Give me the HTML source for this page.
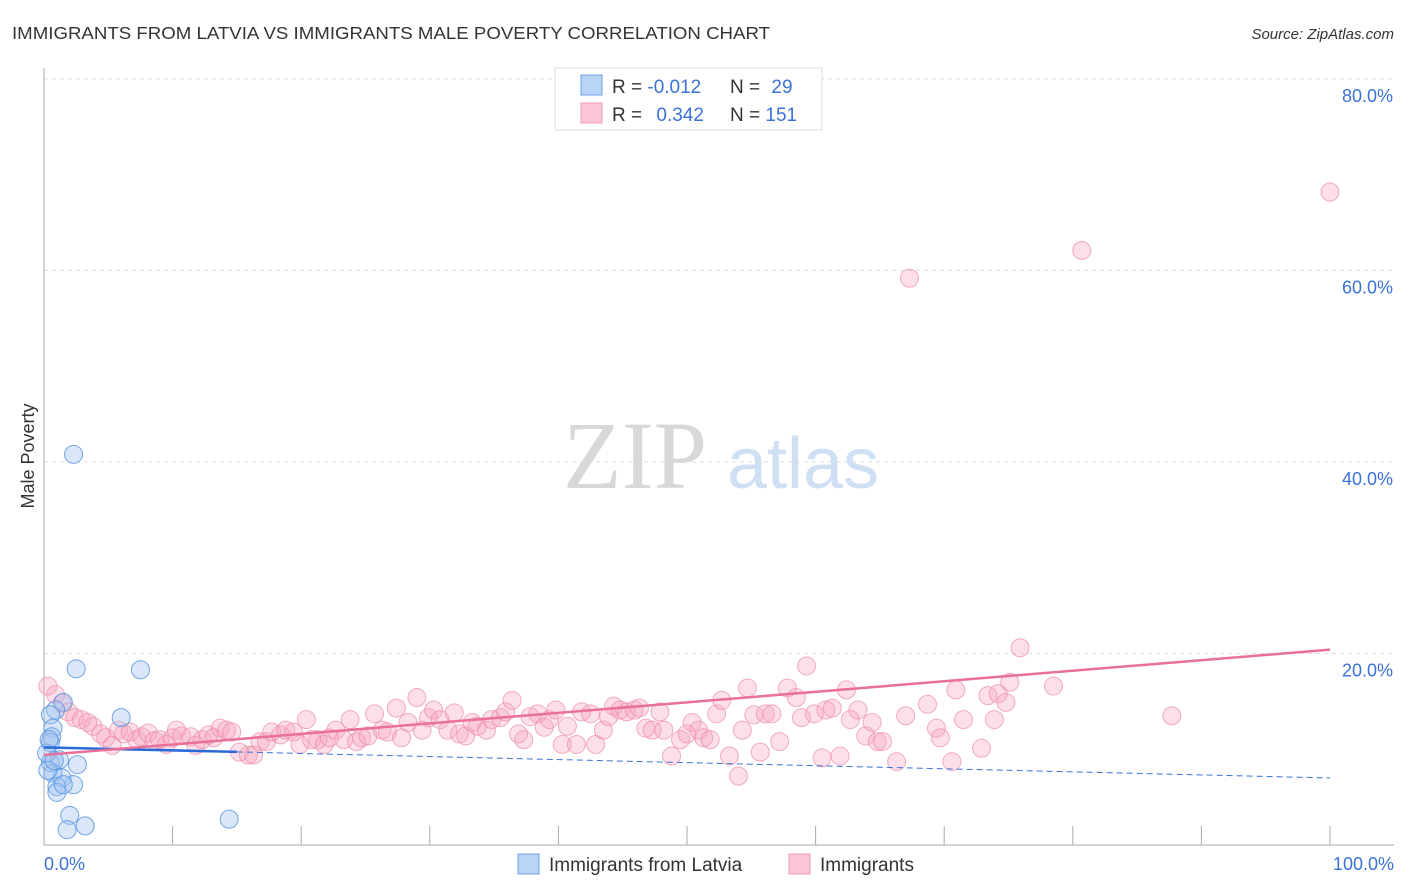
<!DOCTYPE html>
<html><head><meta charset="utf-8"><style>
body{margin:0;background:#fff;font-family:"Liberation Sans",sans-serif;}
svg{display:block}
</style></head><body>
<svg id="chart" width="1406" height="892" viewBox="0 0 1406 892" xmlns="http://www.w3.org/2000/svg">
<text x="12" y="39" font-size="17.5" fill="#333" textLength="758" lengthAdjust="spacingAndGlyphs">IMMIGRANTS FROM LATVIA VS IMMIGRANTS MALE POVERTY CORRELATION CHART</text>
<text x="1394" y="39" font-size="15" fill="#333" font-style="italic" text-anchor="end">Source: ZipAtlas.com</text>
<g>
<text x="635" y="488" font-family="Liberation Serif,serif" font-size="96" fill="#d8d8d8" text-anchor="middle">ZIP</text>
<text x="803" y="488" font-size="72" fill="#cfe0f5" text-anchor="middle">atlas</text>
</g>
<g id="grid"></g>
<g id="axes"></g>
<g id="marks"></g>
<text transform="translate(34,456) rotate(-90)" font-size="18" fill="#333" text-anchor="middle">Male Poverty</text>
<g>
<rect x="555" y="68" width="267" height="62" fill="#fff" stroke="#ddd"/>
<rect x="581" y="75" width="21" height="20" fill="#b8d4f6" stroke="#6fa3e6"/>
<rect x="581" y="103" width="21" height="20" fill="#fbc6d5" stroke="#ee9cb6"/>
<text x="612" y="93" font-size="19" fill="#333">R = <tspan fill="#3a72d8">-0.012</tspan></text>
<text x="730" y="93" font-size="19" fill="#333">N = <tspan fill="#3a72d8" dx="6">29</tspan></text>
<text x="612" y="121" font-size="19" fill="#333">R = <tspan fill="#3a72d8" dx="9">0.342</tspan></text>
<text x="730" y="121" font-size="19" fill="#333">N = <tspan fill="#3a72d8">151</tspan></text>
</g>
<g>
<rect x="518" y="854" width="21" height="20" fill="#b8d4f6" stroke="#6fa3e6"/>
<text x="549" y="871" font-size="19" fill="#333">Immigrants from Latvia</text>
<rect x="789" y="854" width="21" height="20" fill="#fbc6d5" stroke="#ee9cb6"/>
<text x="820" y="871" font-size="19" fill="#333">Immigrants</text>
</g>
</svg>
<script>
const yTicks=[20,40,60,80];
const yTickLabels=["20.0%","40.0%","60.0%","80.0%"];
const xTicks=[0,10,20,30,40,50,60,70,80,90,100];
const xEndLabels=["0.0%","100.0%"];
const blueX=[2.3,2.5,7.5,1.5,6.0,0.9,0.5,0.7,0.6,0.5,0.5,1.2,2.6,0.7,1.4,1.0,2.3,1.0,1.5,2.0,1.8,3.2,14.4,0.2,0.3,0.4,0.8];
const blueY=[40.8,18.4,18.3,14.9,13.3,14.1,13.6,12.2,11.3,10.7,8.6,8.9,8.4,7.5,7.0,6.1,6.3,5.5,6.3,3.1,1.6,2.0,2.7,9.6,7.8,11.0,8.8];
const pinkX=[0.3,0.9,1.4,1.9,2.4,2.9,3.4,3.8,4.4,4.8,5.3,5.8,6.2,6.7,7.2,7.6,8.1,8.6,9.0,9.5,10.0,10.3,10.7,11.4,11.8,12.3,12.8,13.2,13.7,14.2,14.6,15.2,15.9,16.3,16.8,17.3,17.7,18.4,18.8,19.4,19.9,20.4,20.8,21.3,21.8,22.2,22.7,23.3,23.8,24.3,24.7,25.2,25.7,26.3,26.7,27.4,27.8,28.3,29.0,29.4,29.9,30.3,30.8,31.4,31.9,32.3,32.8,33.3,33.7,34.4,34.8,35.5,35.9,36.4,36.9,37.3,37.8,38.4,38.9,39.3,39.8,40.3,40.7,41.4,41.8,42.5,42.9,43.5,43.9,44.3,44.8,45.3,45.9,46.3,46.8,47.3,47.9,48.2,48.8,49.5,50.0,50.4,50.9,51.3,51.8,52.3,52.7,53.3,54.0,54.3,54.7,55.2,55.7,56.1,56.6,57.2,57.8,58.5,58.9,59.3,59.9,60.5,60.8,61.3,61.9,62.4,62.7,63.3,63.9,64.4,64.8,65.2,66.3,67.0,67.3,68.7,69.4,69.7,70.6,70.9,71.5,72.9,73.4,73.9,74.2,74.8,75.1,75.9,78.5,80.7,87.7,100];
const pinkY=[16.6,15.7,14.8,13.9,13.3,13.1,12.8,12.4,11.6,11.2,10.4,12.0,11.6,11.8,11.0,11.3,11.7,10.9,11.0,10.5,11.2,12.0,11.4,11.3,10.4,11.0,11.5,11.2,12.2,12.0,11.8,9.7,9.4,9.4,10.8,10.8,11.8,11.5,12.0,11.8,10.5,13.1,11.0,11.0,10.5,11.2,12.0,11.0,13.1,10.8,11.2,11.4,13.7,12.0,11.8,14.3,11.2,12.8,15.4,12.0,13.3,14.1,13.1,12.0,13.8,11.6,11.4,12.8,12.4,12.0,13.1,13.3,13.9,15.1,11.6,11.0,13.4,13.7,12.3,13.1,14.1,10.5,12.4,10.5,13.9,13.7,10.5,12.0,13.4,14.5,14.1,13.9,14.1,14.3,12.2,12.0,13.9,12.0,9.3,11.0,11.6,12.8,12.0,11.2,11.0,13.7,15.1,9.3,7.2,12.0,16.4,13.6,9.7,13.7,13.7,10.8,16.4,15.4,13.3,18.7,13.7,9.1,14.1,14.3,9.3,16.2,13.1,14.1,11.4,12.8,10.8,10.8,8.7,13.5,59.2,14.7,12.2,11.2,8.7,16.2,13.1,10.1,15.6,13.1,15.8,14.9,17.0,20.6,16.6,62.1,13.5,68.2];
const blueTrend=[10.2,7.0];
const pinkTrend=[9.4,20.4];
const blueSolidEnd=15;

const NS="http://www.w3.org/2000/svg";
const X0=44,X1=1330,Y0=845,PX=(Y0-79)/80;
const sx=v=>X0+(X1-X0)*v/100, sy=v=>Y0-v*PX;
function mk(tag,attrs,parent){const e=document.createElementNS(NS,tag);for(const k in attrs)e.setAttribute(k,attrs[k]);parent.appendChild(e);return e;}
const grid=document.getElementById('grid'),axes=document.getElementById('axes'),marks=document.getElementById('marks');
yTicks.forEach((t,i)=>{
 const l=mk('line',{x1:X0,x2:1394,y1:sy(t),y2:sy(t),stroke:'#ddd','stroke-dasharray':'4,4'},grid);
 
 
 const tx=mk('text',{x:1393,y:sy(t)+23,'font-size':18,fill:'#3a72d8','text-anchor':'end'},axes);
 tx.textContent=yTickLabels[i];
 
 
});
const ax=mk('line',{x1:X0,x2:1394,y1:Y0,y2:Y0,stroke:'#aaa'},axes);


const ay=mk('line',{x1:X0,x2:X0,y1:68,y2:Y0,stroke:'#aaa'},axes);


xTicks.forEach(t=>{
 const l=mk('line',{x1:sx(t),x2:sx(t),y1:Y0,y2:826,stroke:'#aaa'},axes);
 
 
});
[[0,'start',44],[100,'end',1394]].forEach((d,i)=>{
 const tx=mk('text',{x:d[2],y:870,'font-size':18,fill:'#3a72d8','text-anchor':d[1]},axes);
 tx.textContent=xEndLabels[i];
 
 
});
pinkX.forEach((x,i)=>{
 const c=mk('circle',{cx:sx(x),cy:sy(pinkY[i]),r:9,fill:'rgba(246,164,190,0.35)',stroke:'rgba(236,140,170,0.7)','stroke-width':1},marks);
 
 
});
blueX.forEach((x,i)=>{
 const c=mk('circle',{cx:sx(x),cy:sy(blueY[i]),r:9,fill:'rgba(160,196,240,0.4)',stroke:'rgba(80,145,225,0.8)','stroke-width':1},marks);
 
 
});
const bAt=v=>blueTrend[0]+(blueTrend[1]-blueTrend[0])*v/100;
const bd=mk('line',{x1:sx(blueSolidEnd),y1:sy(bAt(blueSolidEnd)),x2:sx(100),y2:sy(bAt(100)),stroke:'#3a72d8','stroke-width':1,'stroke-dasharray':'6,4'},marks);


const bs=mk('line',{x1:sx(0),y1:sy(bAt(0)),x2:sx(blueSolidEnd),y2:sy(bAt(blueSolidEnd)),stroke:'#2a6ad8','stroke-width':2.5},marks);


const pt=mk('line',{x1:sx(0),y1:sy(pinkTrend[0]),x2:sx(100),y2:sy(pinkTrend[1]),stroke:'#e8709a','stroke-width':2.5},marks);


</script>
</body></html>
